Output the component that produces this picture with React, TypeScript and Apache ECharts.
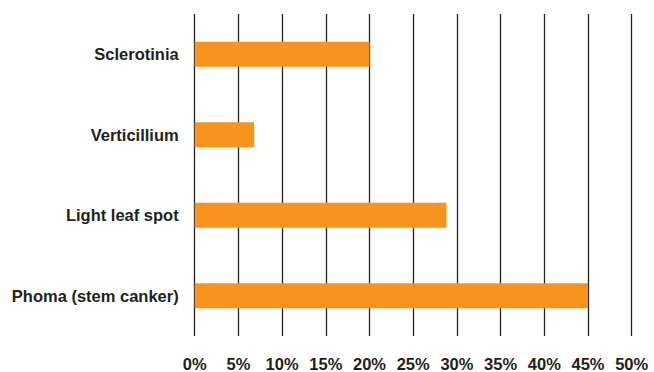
import React, { useEffect, useRef } from "react";
import * as echarts from "echarts";

const categories = ["Sclerotinia", "Verticillium", "Light leaf spot", "Phoma (stem canker)"];
const values = [20, 6.8, 28.8, 45];
const xTicks = [0, 5, 10, 15, 20, 25, 30, 35, 40, 45, 50];

export default function App() {
  const ref = useRef<HTMLDivElement>(null);
  useEffect(() => {
    if (!ref.current) return;
    const chart = echarts.init(ref.current, null, { renderer: "svg" });
    chart.setOption({
      animation: false,
      backgroundColor: "#ffffff",
      grid: { left: 194.7, right: 22.3, top: 14, bottom: 33, containLabel: false },
      xAxis: {
        type: "value",
        min: xTicks[0],
        max: xTicks[xTicks.length - 1],
        interval: 5,
        axisLine: { show: false },
        axisTick: { show: false },
        splitLine: { show: true, lineStyle: { color: "#222222", width: 1.3 } },
        axisLabel: {
          formatter: (v: number) => v + "%",
          color: "#231f20",
          fontFamily: "Liberation Sans, Arial, sans-serif",
          fontWeight: "bold",
          fontSize: 16.5,
          margin: 19,
        },
      },
      yAxis: {
        type: "category",
        data: categories,
        inverse: true,
        axisLine: { show: false },
        axisTick: { show: false },
        axisLabel: {
          color: "#231f20",
          fontFamily: "Liberation Sans, Arial, sans-serif",
          fontWeight: "bold",
          fontSize: 16.5,
          margin: 16,
        },
      },
      series: [
        {
          type: "bar",
          data: values,
          barWidth: 25,
          itemStyle: { color: "#f7941d" },
        },
      ],
    });
    return () => chart.dispose();
  }, []);
  return <div ref={ref} style={{ width: 654, height: 372, position: "absolute", left: 0, top: 0 }} />;
}
